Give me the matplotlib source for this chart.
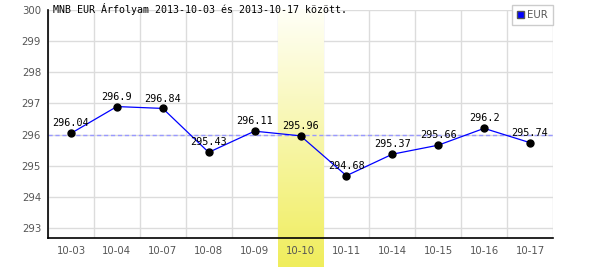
import numpy as np
import matplotlib
matplotlib.use("Agg")
import matplotlib.pyplot as plt
from matplotlib.patches import Patch

dates = ["10-03", "10-04", "10-07", "10-08", "10-09", "10-10",
         "10-11", "10-14", "10-15", "10-16", "10-17"]
rates = [296.04, 296.9, 296.84, 295.43, 296.11, 295.96,
         294.68, 295.37, 295.66, 296.2, 295.74]
avg_level = 296.0
highlight = "10-10"
y_ticks = [293, 294, 295, 296, 297, 298, 299, 300]
title = "MNB EUR Árfolyam 2013-10-03 és 2013-10-17 között."

fig = plt.figure(figsize=(6, 2.7), dpi=100)
ax = fig.add_axes([48/600, 1-238/270, (553-48)/600, (238-10)/270])

x = np.arange(len(dates))
ymin, ymax = 292.68, 300.0
ax.set_xlim(-0.5, len(dates)-0.5)
ax.set_ylim(ymin, ymax)

# grid
for b in np.arange(-0.5, len(dates)):
	ax.axvline(b, color='#dcdcdc', lw=1, zorder=0)
for t in y_ticks:
	ax.axhline(t, color='#dcdcdc', lw=1, zorder=0)

# highlighted day, gradient reaching down through the labels
hi = dates.index(highlight)
grad = np.linspace(0, 1, 256).reshape(-1, 1)
top_c = np.array([1.0, 1.0, 0.97])
bot_c = np.array([0.94, 0.93, 0.36])
img = top_c + (bot_c - top_c) * grad[..., None]
y_low = ymin - (267-238)/31.14
ax.imshow(img[::-1], extent=[hi-0.5, hi+0.5, y_low, ymax], origin='lower',
	aspect='auto', zorder=0.5, clip_on=False)

ax.axhline(avg_level, color='#9999ff', lw=1, ls=(0, (3, 2)), zorder=1)

ax.plot(x, rates, color='#0000ff', lw=0.9, zorder=2)
ax.plot(x, rates, 'o', color='black', ms=5, zorder=3)
for xi, v in zip(x, rates):
	ax.annotate(f"{v:g}", (xi, v), xytext=(0, 3.5), textcoords='offset points',
		ha='center', va='bottom', family='DejaVu Sans Mono', fontsize=7.3, zorder=4)

for s in ['top', 'right']:
	ax.spines[s].set_visible(False)
ax.spines['left'].set_linewidth(1.2)
ax.spines['bottom'].set_linewidth(1.2)
ax.spines['left'].set_zorder(5)
ax.spines['bottom'].set_zorder(5)

ax.set_xticks(x)
ax.set_xticklabels(dates)
ax.set_yticks(y_ticks)
ax.tick_params(length=0, labelsize=7.3, labelcolor='#555555')
ax.tick_params(axis='x', pad=6)
ax.tick_params(axis='y', pad=5)

fig.text(53/600, 1-3/270, title, family='DejaVu Sans Mono', fontsize=7.2,
	ha='left', va='top')

leg = fig.legend(handles=[Patch(facecolor='#0000ff', edgecolor='#555555', label='EUR')],
	loc='upper right', bbox_to_anchor=(553/600, 1-5/270), borderaxespad=0,
	fancybox=False, edgecolor='#cccccc', framealpha=1, fontsize=7.3,
	handlelength=0.7, handleheight=0.7, handletextpad=0.3, borderpad=0.5)
for t in leg.get_texts():
	t.set_color('#555555')

fig.savefig("out.png", dpi=100)
